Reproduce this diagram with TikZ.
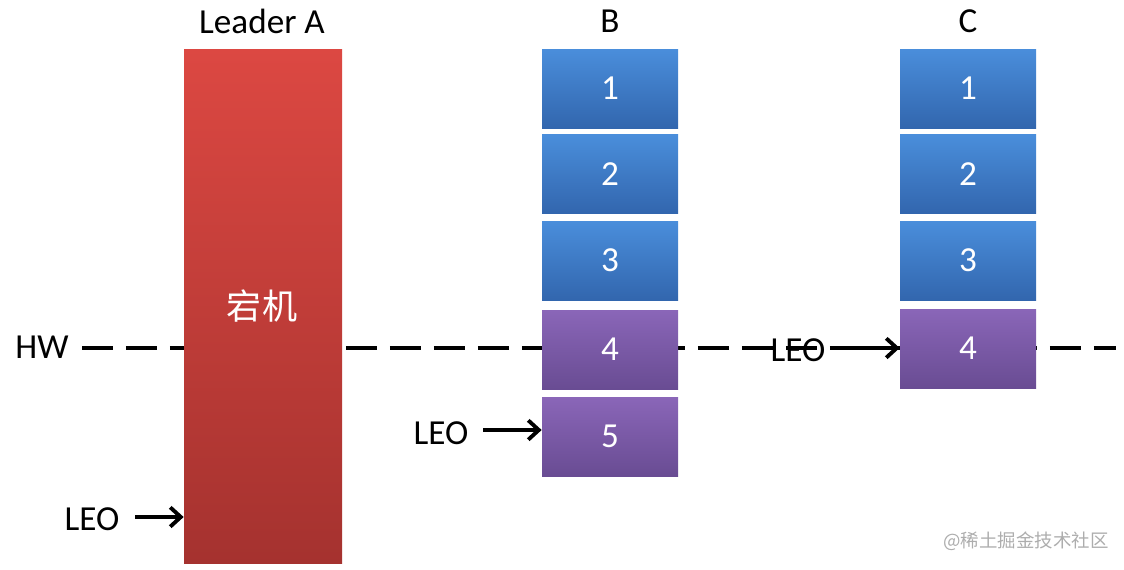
\documentclass[tikz,border=0pt]{standalone}
\usepackage{fontspec}
\setmainfont{Carlito}
\newfontfamily\cjk{Noto Sans CJK SC}
\usetikzlibrary{arrows.meta}
\definecolor{redtop}{HTML}{DC4842}
\definecolor{redbot}{HTML}{A5322F}
\definecolor{bluetop}{HTML}{4A8EDB}
\definecolor{bluebot}{HTML}{3266AE}
\definecolor{purtop}{HTML}{8A66B8}
\definecolor{purbot}{HTML}{694C93}
\tikzset{
  lbl/.style={font=\fontsize{20}{24}\selectfont, text=black, inner sep=0pt},
  boxbase/.style={rectangle, minimum width=136*0.02cm, minimum height=79*0.02cm, inner sep=0pt,
     text=white, font=\fontsize{20}{24}\selectfont, draw=none},
  bluebox/.style={boxbase, top color=bluetop, bottom color=bluebot},
  purbox/.style={boxbase, top color=purtop, bottom color=purbot},
  redbox/.style={rectangle, minimum width=158*0.02cm, minimum height=514*0.02cm, inner sep=0pt,
     top color=redtop, bottom color=redbot, draw=none},
  hwline/.style={line width=2.3pt, dash pattern=on 0.62cm off 0.26cm},
  ptr/.style={line width=2.2pt, -{Straight Barb[length=6pt, width=11pt, line width=2.2pt]}},
}
\begin{document}
\begin{tikzpicture}[x=0.02cm, y=-0.02cm]
\useasboundingbox (0,0) rectangle (1124,569);
% HW dashed line (behind boxes)
\node[lbl] (hw) at (42,347) {HW};
\coordinate (hwend) at (1116,348);
\draw[hwline] (82,348) coordinate (hwstart) -- (hwend);
% titles
\node[lbl] (ta) at (262,21) {Leader A};
\node[lbl] (tb) at (610,21) {B};
\node[lbl] (tc) at (968,21) {C};
% leader A
\node[redbox] (A) at (263,306) {};
\node[text=white, font=\cjk\fontsize{20}{24}\selectfont] (down) at (262,306) {宕机};
% B
\node[bluebox] (b1) at (610,88.5) {1};
\node[bluebox] (b2) at (610,174) {2};
\node[bluebox] (b3) at (610,260.5) {3};
\node[purbox] (b4) at (610,349.5) {4};
\node[purbox] (b5) at (610,436.5) {5};
% C
\node[bluebox] (c1) at (968,88.5) {1};
\node[bluebox] (c2) at (968,174) {2};
\node[bluebox] (c3) at (968,260.5) {3};
\node[purbox] (c4) at (968,348.5) {4};
% LEO pointers
\node[lbl] (leoA) at (92,519) {LEO};
\draw[ptr] (135,517) -- (A.west |- 0,517);
\node[lbl] (leoB) at (441,433) {LEO};
\draw[ptr] (483,430) -- (b5.west |- 0,430);
\node[lbl] (leoC) at (798,350) {LEO};
\draw[ptr] (838,348) -- (c4.west |- 0,348);
% watermark
\node[text=black!32, font=\cjk\fontsize{10.5}{12}\selectfont, inner sep=0pt] (wm) at (1026,541) {@稀土掘金技术社区};
\end{tikzpicture}
\end{document}
